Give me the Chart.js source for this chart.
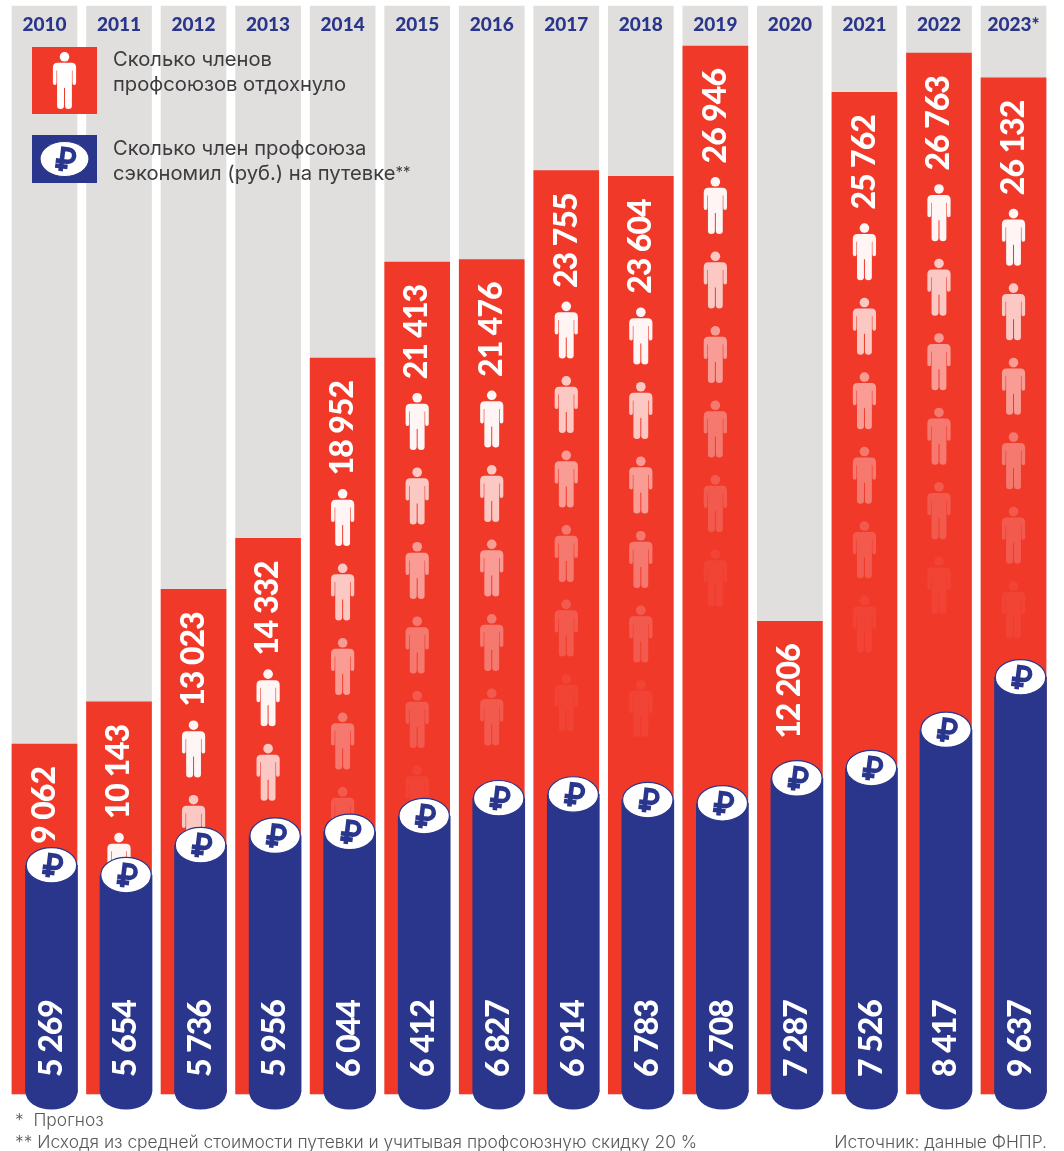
<!DOCTYPE html>
<html lang="ru"><head><meta charset="utf-8">
<script src="https://cdn.jsdelivr.net/npm/chart.js@4"></script>
<style>
html,body{margin:0;padding:0;background:#fff;width:1064px;height:1151px;overflow:hidden}
#wrap{position:relative;width:1064px;height:1151px}
canvas{position:absolute;left:0;top:0}
.t{position:absolute;font-family:Inter,sans-serif;white-space:nowrap;color:#3c3c3e}
.lg{font-size:20.2px;line-height:25px;font-weight:400}
.lg small{font-size:15px;position:relative;top:-3px}
.ft{font-size:17.4px;font-weight:300;color:#58585a;line-height:22px}
</style></head><body>
<div id="wrap">
<canvas id="c" width="1064" height="1151"></canvas>
<div class="t lg" style="left:113px;top:46px">Сколько членов<br>профсоюзов отдохнуло</div>
<div class="t lg" style="left:113px;top:135px">Сколько член профсоюза<br>сэкономил (руб.) на путевке<small>**</small></div>
<div class="t ft" style="left:15px;top:1109px">*&nbsp; Прогноз</div>
<div class="t ft" style="left:15px;top:1131px">** Исходя из средней стоимости путевки и учитывая профсоюзную скидку 20 %</div>
<div class="t ft" style="right:17px;top:1131px">Источник: данные ФНПР.</div>
</div>
<script>
const years = ['2010','2011','2012','2013','2014','2015','2016','2017','2018','2019','2020','2021','2022','2023*'];
const members = [9062,10143,13023,14332,18952,21413,21476,23755,23604,26946,12206,25762,26763,26132];
const savings = [5269,5654,5736,5956,6044,6412,6827,6914,6783,6708,7287,7526,8417,9637];
// column heights: the reference draws 2011 lower than its printed label
const savingsDrawn = [5269,5040,5736,5956,6044,6412,6827,6914,6783,6708,7287,7526,8417,9637];
const backdrop = years.map(() => 27970);

const RED='#f1392a', BLUE='#2a368b', GREY='#e0dfde';
const fmt = v => Math.floor(v/1000)+' '+String(v%1000).padStart(3,'0');
const NUMFONT = '900 32px Lato, sans-serif';
const FADE = [0.95,0.72,0.5,0.32,0.17,0.05];

function person(ctx,cx,top,a){
  const g = ctx.createLinearGradient(0,top,0,top+57);
  g.addColorStop(0,`rgba(255,255,255,${a})`);
  g.addColorStop(1,`rgba(255,255,255,${a*0.72})`);
  ctx.save(); ctx.translate(cx,top); ctx.fillStyle=g;
  ctx.beginPath(); ctx.arc(0,4.8,4.8,0,Math.PI*2); ctx.fill();
  ctx.beginPath();
  ctx.moveTo(-7,10.8); ctx.lineTo(7,10.8);
  ctx.quadraticCurveTo(11.6,10.8,11.6,15.5);
  ctx.lineTo(11.6,31); ctx.quadraticCurveTo(11.6,33,9.6,33);
  ctx.quadraticCurveTo(8,33,8,31);
  ctx.lineTo(8,18.5); ctx.lineTo(7.4,18.5);
  ctx.lineTo(7.4,54); ctx.quadraticCurveTo(7.4,57,4,57);
  ctx.quadraticCurveTo(0.6,57,0.5,54); ctx.lineTo(0.5,36); ctx.lineTo(-0.5,36); ctx.lineTo(-0.5,54);
  ctx.quadraticCurveTo(-0.6,57,-4,57); ctx.quadraticCurveTo(-7.4,57,-7.4,54);
  ctx.lineTo(-7.4,18.5); ctx.lineTo(-8,18.5); ctx.lineTo(-8,31);
  ctx.quadraticCurveTo(-8,33,-9.6,33); ctx.quadraticCurveTo(-11.6,33,-11.6,31);
  ctx.lineTo(-11.6,15.5); ctx.quadraticCurveTo(-11.6,10.8,-7,10.8);
  ctx.closePath(); ctx.fill(); ctx.restore();
}
function ruble(ctx,cx,cy){
  ctx.save(); ctx.translate(cx,cy); ctx.rotate(0.12);
  ctx.strokeStyle=BLUE; ctx.lineWidth=4.6; ctx.lineCap='butt';
  ctx.beginPath();
  ctx.moveTo(-2.5,12.5); ctx.lineTo(-2.5,-10);
  ctx.lineTo(3,-10); ctx.arc(3,-3.8,6.2,-Math.PI/2,Math.PI/2); ctx.lineTo(-8.5,2.4);
  ctx.moveTo(-8.5,7.6); ctx.lineTo(4,7.6);
  ctx.stroke(); ctx.restore();
}
function cap(ctx,cx,cy,rx,ry){
  ctx.beginPath(); ctx.ellipse(cx,cy,rx,ry,0,0,Math.PI*2);
  ctx.fillStyle='#fff'; ctx.fill();
  ctx.lineWidth=1.2; ctx.strokeStyle=BLUE; ctx.stroke();
  ruble(ctx,cx,cy);
}
function vtext(ctx,s,x,y){
  ctx.save(); ctx.translate(x,y); ctx.rotate(-Math.PI/2);
  ctx.letterSpacing='-1px';
  ctx.fillStyle='#fff'; ctx.textBaseline='middle'; ctx.fillText(s,0,0); ctx.restore();
}
const deco = {
  id:'deco',
  beforeDatasetDraw(chart,args){
    const ctx=chart.ctx;
    if(args.index===2){
      const red=chart.getDatasetMeta(1).data, blue=chart.getDatasetMeta(2).data;
      ctx.save();
      ctx.font=NUMFONT; ctx.textAlign='right';
      red.forEach((bar,i)=>{
        vtext(ctx,fmt(members[i]),bar.x,bar.y+23);
        const capTop=blue[i].y-18;
        let top=bar.y+131;
        FADE.forEach(a=>{
          if(top+23<capTop) person(ctx,bar.x,top,a);
          top+=74.5;
        });
      });
      ctx.fillStyle=BLUE;
      const base=chart.scales.y2.getPixelForValue(0);
      blue.forEach(b=>{ctx.beginPath();ctx.ellipse(b.x,base,26,17.5,0,0,Math.PI*2);ctx.fill();});
      ctx.restore();
    }
  },
  afterDatasetDraw(chart,args){
    if(args.index!==2) return;
    const ctx=chart.ctx; ctx.save();
    const blue=chart.getDatasetMeta(2).data;
    ctx.font=NUMFONT; ctx.textAlign='left';
    blue.forEach((b,i)=>{
      cap(ctx,b.x,b.y,25.2,17.7);
      vtext(ctx,fmt(savings[i]),b.x,1077);
    });
    ctx.restore();
  },
  afterDraw(chart){
    const ctx=chart.ctx; ctx.save();
    ctx.fillStyle=RED; ctx.fillRect(32,47,65,67); person(ctx,64.5,52,1);
    ctx.fillStyle=BLUE; ctx.fillRect(32,135,65,48); cap(ctx,64.5,159,24.5,17.5);
    ctx.restore();
  }
};
const BLUE_SHIFT = 7/74.54;
new Chart(document.getElementById('c'),{
  type:'bar',
  plugins:[deco],
  data:{labels:years,datasets:[
    {label:'фон',data:backdrop,base:95,backgroundColor:GREY,barThickness:65,grouped:false,order:3,clip:false,xAxisID:'x',yAxisID:'y'},
    {label:'Сколько членов профсоюзов отдохнуло',data:members,base:95,backgroundColor:RED,barThickness:65,grouped:false,order:2,clip:false,xAxisID:'x',yAxisID:'y'},
    {label:'Сколько член профсоюза сэкономил (руб.) на путевке',data:savingsDrawn.map((v,i)=>({x:i,y:v})),backgroundColor:BLUE,barThickness:52,grouped:false,order:1,clip:false,xAxisID:'x2',yAxisID:'y2'}
  ]},
  options:{
    responsive:false,animation:false,devicePixelRatio:1,
    layout:{padding:{left:7.2,right:13.2,top:0,bottom:57}},
    plugins:{legend:{display:false},tooltip:{enabled:false}},
    scales:{
      x:{type:'category',position:'top',offset:true,
        grid:{display:false,drawTicks:false},border:{display:false},
        afterFit(s){s.height=40;},
        ticks:{z:1,color:BLUE,font:{family:'Lato, sans-serif',weight:'900',size:19},padding:4,maxRotation:0,autoSkip:false}},
      x2:{type:'linear',display:false,offset:false,bounds:'data',min:-0.5-BLUE_SHIFT,max:13.5-BLUE_SHIFT,grid:{display:false}},
      y:{display:false,min:95,max:27100},
      y2:{display:false,min:-46,max:24442}
    }
  }
});
</script>
</body></html>
